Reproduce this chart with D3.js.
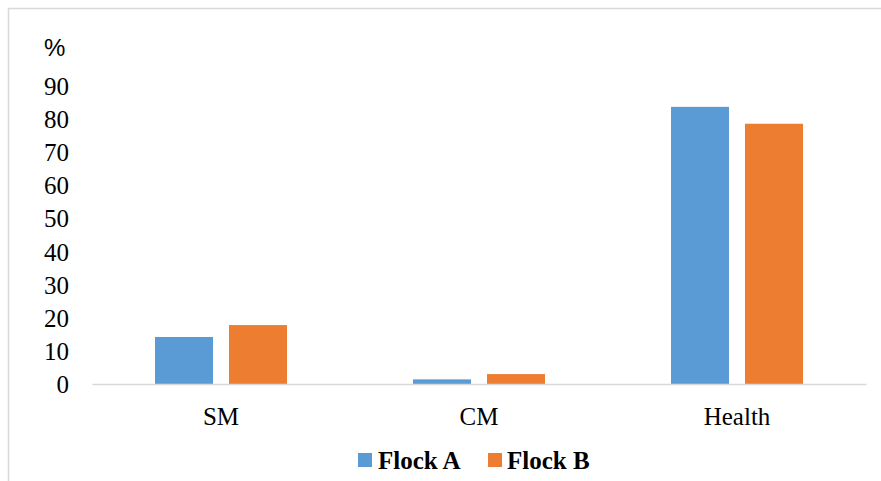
<!DOCTYPE html>
<html>
<head>
<meta charset="utf-8">
<script src="https://cdn.jsdelivr.net/npm/d3@7"></script>
<style>
  html, body { margin: 0; padding: 0; background: #fff; }
  svg { display: block; }
</style>
</head>
<body>
<svg id="chart" width="881" height="481"></svg>
<script>
// Data
const categories = ["SM", "CM", "Health"];
const seriesNames = ["Flock A", "Flock B"];
const flockA = [14.2, 1.4, 83.7];
const flockB = [17.8, 3.0, 78.6];
const yTicks = [0, 10, 20, 30, 40, 50, 60, 70, 80, 90];
const colors = ["#5b9bd5", "#ed7d31"];

const svg = d3.select("#chart");
const serif = "'Liberation Serif', 'Times New Roman', serif";

// Frame around the chart area
svg.append("rect")
  .attr("x", 8.5).attr("y", 8.5)
  .attr("width", 920).attr("height", 520)
  .attr("fill", "#fff")
  .attr("stroke", "#d9d9d9")
  .attr("stroke-width", 1.5);

const plot = { left: 92, right: 866, top: 86, bottom: 384 };

const x0 = d3.scaleBand()
  .domain(categories)
  .range([plot.left, plot.right])
  .paddingInner(0)
  .paddingOuter(0);

const groupWidth = 132;
const x1 = d3.scaleBand()
  .domain(seriesNames)
  .range([(x0.bandwidth() - groupWidth) / 2, (x0.bandwidth() + groupWidth) / 2])
  .paddingInner(16 / 74)
  .paddingOuter(0);

const y = d3.scaleLinear()
  .domain([0, 90])
  .range([plot.bottom, plot.top]);

// Bars
const rows = categories.map((c, i) => ({ cat: c, values: [flockA[i], flockB[i]] }));
const groups = svg.append("g").selectAll("g")
  .data(rows)
  .join("g")
  .attr("transform", d => `translate(${x0(d.cat)},0)`);

groups.selectAll("rect")
  .data(d => d.values.map((v, j) => ({ name: seriesNames[j], value: v, j })))
  .join("rect")
  .attr("x", d => x1(d.name))
  .attr("width", x1.bandwidth())
  .attr("y", d => y(d.value))
  .attr("height", d => y(0) - y(d.value))
  .attr("fill", d => colors[d.j]);

// Y axis labels (no axis line)
const yAxis = d3.axisLeft(y).tickValues(yTicks).tickSize(0).tickPadding(0);
const gy = svg.append("g")
  .attr("transform", `translate(69,0)`)
  .attr("font-family", serif)
  .call(yAxis);
gy.select(".domain").remove();
gy.attr("font-family", serif);
gy.selectAll("text")
  .attr("font-family", serif)
  .attr("font-size", 25)
  .attr("fill", "#000")
  .attr("dy", "0.34em");

// Unit label
svg.append("text")
  .attr("x", 44).attr("y", 56)
  .attr("font-family", "'Liberation Sans', Arial, sans-serif")
  .attr("font-size", 24)
  .attr("fill", "#000")
  .text("%");

// X axis
const xAxis = d3.axisBottom(x0).tickSize(0).tickPadding(0);
const gx = svg.append("g")
  .attr("transform", `translate(0,${plot.bottom})`)
  .call(xAxis);
gx.attr("font-family", serif);
gx.select(".domain")
  .attr("stroke", "#d9d9d9")
  .attr("stroke-width", 1.5);
gx.selectAll("text")
  .attr("font-family", serif)
  .attr("font-size", 25)
  .attr("fill", "#000")
  .attr("dy", 0)
  .attr("y", 41);

// Legend
const legendItems = [
  { name: seriesNames[0], color: colors[0], sx: 358, tx: 378 },
  { name: seriesNames[1], color: colors[1], sx: 488, tx: 507 }
];
const lg = svg.append("g");
legendItems.forEach(it => {
  lg.append("rect")
    .attr("x", it.sx).attr("y", 453)
    .attr("width", 14).attr("height", 14)
    .attr("fill", it.color);
  lg.append("text")
    .attr("x", it.tx).attr("y", 469)
    .attr("font-family", serif)
    .attr("font-size", 25)
    .attr("font-weight", "bold")
    .attr("fill", "#000")
    .text(it.name);
});
</script>
</body>
</html>
